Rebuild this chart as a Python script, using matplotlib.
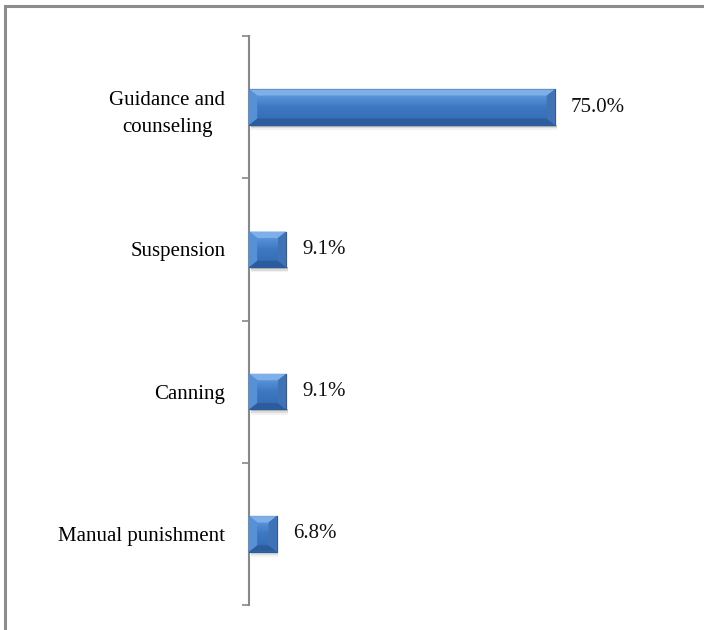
import numpy as np
import matplotlib.pyplot as plt
from matplotlib.patches import Polygon, Rectangle
from matplotlib.colors import LinearSegmentedColormap

categories = ['Guidance and\ncounseling', 'Suspension', 'Canning', 'Manual punishment']
values = [75.0, 9.1, 9.1, 6.8]
value_labels = ['75.0%', '9.1%', '9.1%', '6.8%']

plt.rcParams['font.family'] = ['Liberation Serif', 'DejaVu Serif']

fig = plt.figure(figsize=(7.04, 6.3), dpi=100)
ax = fig.add_axes([249 / 704, 1 - 605 / 630, 0.62, (605 - 36) / 630])

ypos = np.arange(len(categories))
bar_h = 0.25
face = '#3b77c1'
bars = ax.barh(ypos, values, height=bar_h, color=face, edgecolor='#2b5b98',
               linewidth=0.8, zorder=3)

ax.set_xlim(0, 107)
ax.set_ylim(len(categories) - 0.5, -0.5)

# bevel look: light top, dark bottom, mid sides, soft shadow
bx = 2.0    # bevel width in x data units
by = 0.045  # bevel height in y data units
cmap = LinearSegmentedColormap.from_list('face', ['#5892d8', '#3c78c2', '#376fb6'])
grad = np.linspace(0, 1, 50).reshape(-1, 1)
for b in bars:
    x0, y0 = b.get_x(), b.get_y()
    w, h = b.get_width(), b.get_height()
    x1, y1 = x0 + w, y0 + h
    # y axis inverted: y0 is visually top
    top = Polygon([[x0, y0], [x1, y0], [x1 - bx, y0 + by], [x0 + bx, y0 + by]],
                  closed=True, color='#7db0e8', lw=0, zorder=4)
    bot = Polygon([[x0, y1], [x1, y1], [x1 - bx, y1 - by], [x0 + bx, y1 - by]],
                  closed=True, color='#2c5c9c', lw=0, zorder=4)
    left = Polygon([[x0, y0], [x0 + bx, y0 + by], [x0 + bx, y1 - by], [x0, y1]],
                   closed=True, color='#5790d5', lw=0, zorder=4)
    right = Polygon([[x1, y0], [x1 - bx, y0 + by], [x1 - bx, y1 - by], [x1, y1]],
                    closed=True, color='#3f73b5', lw=0, zorder=4)
    for p in (top, bot, left, right):
        ax.add_patch(p)
    ax.imshow(grad, cmap=cmap, aspect='auto', zorder=3.5,
              extent=[x0 + bx, x1 - bx, y1 - by, y0 + by], interpolation='bilinear')
    # shadow
    for k, a in enumerate([0.16, 0.09, 0.05]):
        ax.add_patch(Rectangle((x0 + 0.4, y1), w, 0.012 * (k + 1), color='k',
                               alpha=a, lw=0, zorder=2))
    ax.add_patch(b)

for y, v, lab in zip(ypos, values, value_labels):
    ax.text(v + 3.9, y, lab, va='center', ha='left', fontsize=15, color='#111111')

ax.set_yticks(ypos)
ax.set_yticklabels(categories, fontsize=15, multialignment='center', linespacing=1.6)
ax.set_yticks(np.arange(len(categories) + 1) - 0.5, minor=True)
ax.tick_params(axis='y', which='major', length=0, pad=17)
ax.tick_params(axis='y', which='minor', length=5, width=1.2, color='#888888')
ax.set_xticks([])

for s in ['top', 'right', 'bottom']:
    ax.spines[s].set_visible(False)
ax.spines['left'].set_color('#888888')
ax.spines['left'].set_linewidth(1.5)

# chart frame (partially cut off at right and bottom)
fig.patches.append(Rectangle((5 / 704, -0.05), 1.2, 1 - 6 / 630 + 0.05,
                             transform=fig.transFigure, fill=False,
                             edgecolor='#8c8c8c', linewidth=2.2))

fig.savefig('out.png', dpi=100)
